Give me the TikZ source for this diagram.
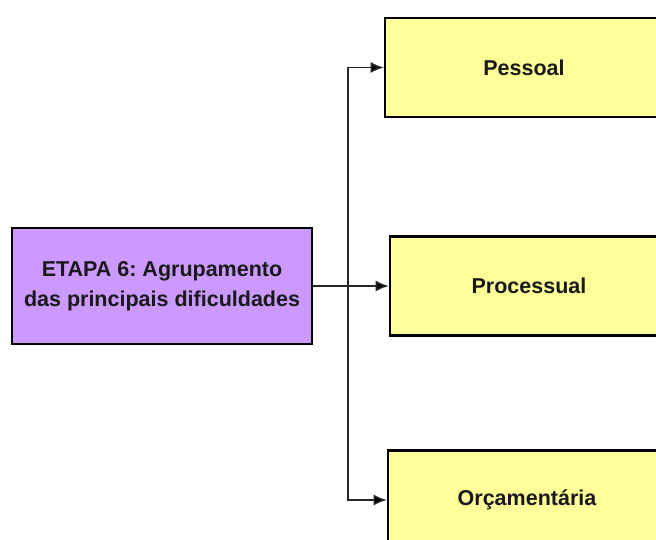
\documentclass[tikz,border=0pt]{standalone}
\usepackage{fontspec}
\setmainfont{Liberation Sans}
\usetikzlibrary{arrows.meta}
\definecolor{stagefill}{HTML}{CC99FF}
\definecolor{groupfill}{HTML}{FFFF99}
\frenchspacing
\tikzset{
  box/.style={draw=black, line width=2.6pt, inner sep=0pt, align=center,
    font=\fontsize{21.5}{30}\selectfont\bfseries, text=black!90},
  stagebox/.style={box, fill=stagefill, minimum width=300pt, minimum height=116pt},
  groupbox/.style={box, fill=groupfill, minimum width=278pt, minimum height=99pt},
  conn/.style={draw=black!85, line width=1.5pt,
    -{Latex[length=13pt,width=11pt,fill=black]}},
}
\begin{document}
\begin{tikzpicture}[x=1pt,y=-1pt]
\useasboundingbox (0,0) rectangle (656,540);
\begin{scope}
\clip (0,0) rectangle (656,540);
\node[stagebox] (stage) at (162,286) {ETAPA 6: Agrupamento\\das principais dificuldades};
\node[groupbox] (pessoal) at (524,67.5) {Pessoal};
\node[groupbox] (processual) at (529,286) {Processual};
\node[groupbox] (orcamento) at (527,500) {Orçamentária};
\coordinate (split) at (348,286);
\draw[conn] (stage.east) -- (processual.west);
\draw[conn] (split) |- (pessoal.west);
\draw[conn] (split) |- (orcamento.west);
\end{scope}
\end{tikzpicture}
\end{document}
